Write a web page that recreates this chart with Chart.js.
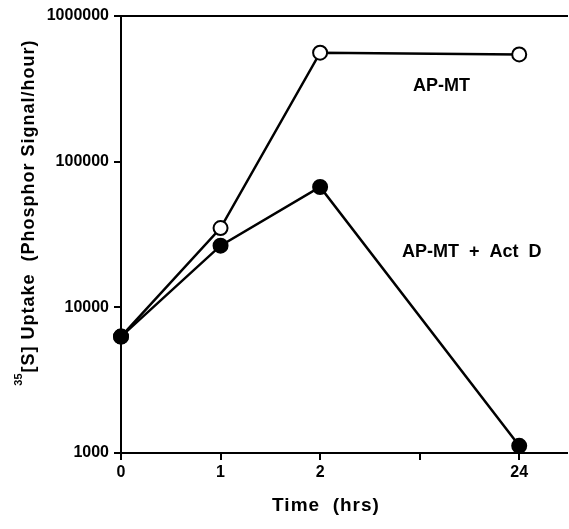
<!DOCTYPE html>
<html>
<head>
<meta charset="utf-8">
<script src="https://cdn.jsdelivr.net/npm/chart.js@4"></script>
<style>
  body { margin: 0; background: #fff; }
  #wrap { width: 569px; height: 529px; }
</style>
</head>
<body>
<div id="wrap"><canvas id="uptakeChart" width="569" height="529"></canvas></div>
<script>
// tick labels along the time axis (one slot left blank, as in the figure)
const tickLabels = ["0", "1", "2", "", "24"];
const timeHours = [0, 1, 2, 24];
// 35S uptake, phosphor signal per hour
const apMt = [6300, 35000, 560000, 545000];
const apMtActD = [6300, 26500, 67000, 1120];
const yTicks = [1000, 10000, 100000, 1000000];

const X_MAX = 4.48;

const toPoints = (vals) =>
  vals.map((v, i) => ({ x: tickLabels.indexOf(String(timeHours[i])), y: v }));

const FONT = "'Liberation Sans', Arial, sans-serif";

// frame top line, axis titles and series labels
const annotations = {
  id: "annotations",
  afterDraw(chart) {
    const { ctx, chartArea } = chart;
    ctx.save();
    ctx.strokeStyle = "#000";
    ctx.lineWidth = 2;
    ctx.beginPath();
    ctx.moveTo(chartArea.left - 1, chartArea.top);
    ctx.lineTo(chartArea.right + 1, chartArea.top);
    ctx.stroke();

    ctx.fillStyle = "#000";
    ctx.textBaseline = "middle";
    ctx.letterSpacing = "1px";
    ctx.textAlign = "center";
    ctx.font = "bold 19px " + FONT;
    ctx.fillText("Time  (hrs)", 326, 506);

    ctx.font = "bold 18px " + FONT;
    ctx.textAlign = "left";
    ctx.letterSpacing = "0px";
    ctx.fillText("AP-MT", 413, 86);
    ctx.fillText("AP-MT  +  Act  D", 402, 252);

    // rotated y title with superscript
    ctx.translate(29, 206);
    ctx.rotate(-Math.PI / 2);
    ctx.letterSpacing = "1px";
    ctx.font = "bold 18px " + FONT;
    ctx.textAlign = "center";
    const t = "[S] Uptake  (Phosphor Signal/hour)";
    ctx.fillText(t, 0, 0);
    const w = ctx.measureText(t).width;
    ctx.letterSpacing = "0px";
    ctx.font = "bold 11px " + FONT;
    ctx.textAlign = "right";
    ctx.fillText("35", -w / 2 - 1, -10);
    ctx.restore();
  }
};

new Chart(document.getElementById("uptakeChart"), {
  type: "line",
  data: {
    datasets: [
      {
        label: "AP-MT + Act D",
        data: toPoints(apMtActD),
        borderColor: "#000",
        borderWidth: 2.5,
        backgroundColor: "#000",
        pointBackgroundColor: "#000",
        pointBorderColor: "#000",
        pointBorderWidth: 2,
        pointRadius: 7,
        tension: 0,
        clip: false
      },
      {
        label: "AP-MT",
        data: toPoints(apMt),
        borderColor: "#000",
        borderWidth: 2.5,
        pointBackgroundColor: "#fff",
        pointBorderColor: "#000",
        pointBorderWidth: 2,
        pointRadius: 7,
        tension: 0,
        clip: false
      }
    ]
  },
  options: {
    responsive: false,
    animation: false,
    layout: { autoPadding: false, padding: { top: 16, right: 2, left: 0, bottom: 0 } },
    plugins: { legend: { display: false }, tooltip: { enabled: false } },
    scales: {
      x: {
        type: "linear",
        min: 0,
        max: X_MAX,
        afterBuildTicks: (s) => { s.ticks = tickLabels.map((_, i) => ({ value: i })); },
        afterFit: (s) => { s.height = 76; },
        border: { color: "#000", width: 2 },
        grid: { drawOnChartArea: false, drawTicks: true, tickLength: 7, color: "#000", lineWidth: 2 },
        ticks: {
          color: "#000",
          padding: 3,
          maxRotation: 0,
          font: { family: FONT, size: 16, weight: "bold" },
          callback: (v) => tickLabels[v] ?? ""
        }
      },
      y: {
        type: "logarithmic",
        min: 1000,
        max: 1000000,
        afterBuildTicks: (s) => { s.ticks = yTicks.map((v) => ({ value: v })); },
        afterFit: (s) => { s.width = 121; },
        border: { color: "#000", width: 2 },
        grid: { drawOnChartArea: false, drawTicks: true, tickLength: 7, color: "#000", lineWidth: 2 },
        ticks: {
          color: "#000",
          padding: 5,
          font: { family: FONT, size: 16, weight: "bold" },
          callback: (v) => String(v)
        }
      }
    }
  },
  plugins: [annotations]
});
</script>
</body>
</html>
